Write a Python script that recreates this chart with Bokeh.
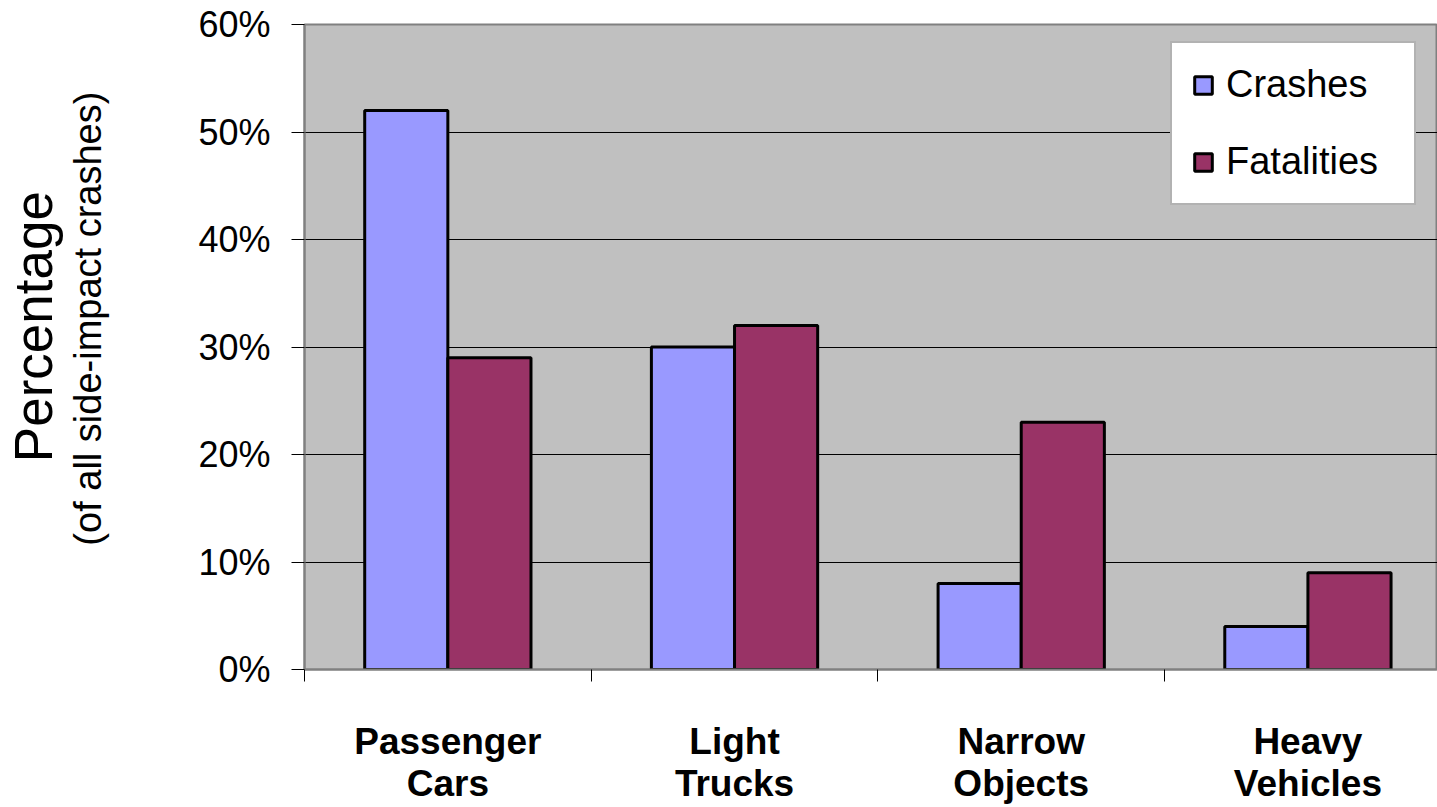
import numpy as np
from bokeh.plotting import figure
from bokeh.layouts import row
from bokeh.models import (FixedTicker, PrintfTickFormatter, Legend, LegendItem,
                          Range1d)
from bokeh.core.properties import value
from bokeh.embed import file_html
from bokeh.resources import INLINE

# ---- data ----
categories = ["Passenger Cars", "Light Trucks", "Narrow Objects", "Heavy Vehicles"]
category_labels = ["Passenger\nCars", "Light\nTrucks", "Narrow\nObjects", "Heavy\nVehicles"]
crashes = [52, 30, 8, 4]
fatalities = [29, 32, 23, 9]
y_ticks = [0, 10, 20, 30, 40, 50, 60]
series_names = ["Crashes", "Fatalities"]
y_title = "Percentage"
y_subtitle = "(of all side-impact crashes)"

FONT = "Liberation Sans"
idx = np.arange(len(categories))
centers = idx + 0.5
bar_w = 0.29

H = 807
LEFT_W = 164

# ---- left strip holding the two-part y-axis title ----
t = figure(width=LEFT_W, height=H, x_range=Range1d(0, LEFT_W), y_range=Range1d(0, H),
           output_backend="svg", toolbar_location=None,
           x_axis_type=None, y_axis_type=None,
           min_border=0, min_border_left=0, min_border_right=0,
           min_border_top=0, min_border_bottom=0)
t.outline_line_color = None
t.xgrid.visible = False
t.ygrid.visible = False
t.background_fill_color = "white"
t.border_fill_color = "white"
t.text(x=[33], y=[H - 378], text=[y_title], angle=np.pi / 2,
       text_align="center", text_baseline="middle",
       text_font=value(FONT), text_font_size="53px", text_color="black")
t.text(x=[87], y=[H - 368], text=[y_subtitle], angle=np.pi / 2,
       text_align="center", text_baseline="middle",
       text_font=value(FONT), text_font_size="38px", text_color="black")

# ---- main chart ----
p = figure(width=1437 - LEFT_W, height=H,
           x_range=Range1d(0, 3.952), y_range=Range1d(0, 60),
           output_backend="svg", toolbar_location=None,
           min_border_left=304 - LEFT_W, min_border_top=24, min_border_bottom=137,
           min_border_right=0)
p.background_fill_color = "#C0C0C0"
p.border_fill_color = "white"
p.outline_line_color = "#808080"
p.outline_line_width = 2
p.xgrid.visible = False
p.ygrid.grid_line_color = "black"
p.ygrid.grid_line_width = 1

r1 = p.vbar(x=centers - bar_w / 2, top=crashes, width=bar_w,
            fill_color="#9999FF", line_color="black", line_width=3)
r2 = p.vbar(x=centers + bar_w / 2, top=fatalities, width=bar_w,
            fill_color="#993366", line_color="black", line_width=3)

# y axis
ya = p.yaxis[0]
ya.ticker = FixedTicker(ticks=y_ticks)
ya.formatter = PrintfTickFormatter(format="%d%%")
ya.major_label_text_font = FONT
ya.major_label_text_font_size = "36px"
ya.major_label_text_color = "black"
ya.major_tick_out = 13
ya.major_tick_in = 0
ya.minor_tick_out = 0
ya.minor_tick_in = 0
ya.major_tick_line_color = "black"
ya.axis_line_color = "#808080"
ya.axis_line_width = 2
ya.major_label_standoff = 21

# x axis
xa = p.xaxis[0]
xa.ticker = FixedTicker(ticks=list(centers), minor_ticks=list(range(len(categories) + 1)))
xa.major_label_overrides = {float(c): lab for c, lab in zip(centers, category_labels)}
xa.major_label_text_font = FONT
xa.major_label_text_font_size = "37px"
xa.major_label_text_font_style = "bold"
xa.major_label_text_color = "black"
xa.major_label_text_line_height = 1.04
xa.major_tick_out = 0
xa.major_tick_in = 0
xa.minor_tick_out = 12
xa.minor_tick_in = 0
xa.minor_tick_line_color = "black"
xa.axis_line_color = "#808080"
xa.axis_line_width = 2
xa.major_label_standoff = 39

legend = Legend(items=[LegendItem(label=series_names[0], renderers=[r1]),
                       LegendItem(label=series_names[1], renderers=[r2])],
                location=(866, 464))
legend.label_text_font = FONT
legend.label_text_font_size = "38px"
legend.label_text_color = "black"
legend.label_width = 168
legend.glyph_width = 22
legend.glyph_height = 22
legend.label_standoff = 12
legend.padding = 20
legend.spacing = 34
legend.margin = 0
legend.border_line_color = "#666666"
legend.border_line_width = 2
legend.background_fill_color = "white"
legend.background_fill_alpha = 1.0
p.add_layout(legend)

layout = row(t, p, spacing=0)
open("out.html", "w").write(file_html(layout, INLINE))
